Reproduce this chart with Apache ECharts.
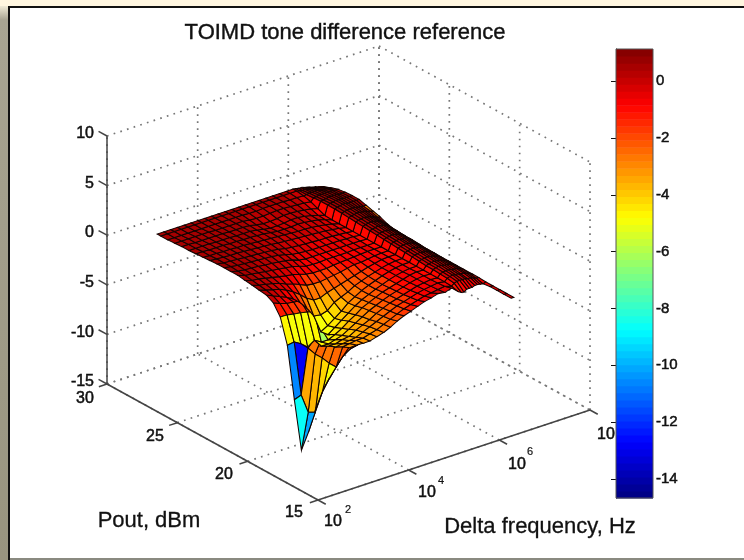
<!DOCTYPE html>
<html><head><meta charset="utf-8">
<style>html,body{margin:0;padding:0;background:#fff}#c{width:744px;height:560px;filter:blur(0.5px)}</style>
<script src="https://cdn.jsdelivr.net/npm/echarts@6/dist/echarts.min.js"></script>
</head><body><div id="c"></div>
<script>
const titleText='TOIMD tone difference reference';
const zTicks=[-15,-10,-5,0,5,10];
const poutTicks=[15,20,25,30];
const freqExpTicks=[2,4,6,8];
const barTicks=[0,-2,-4,-6,-8,-10,-12,-14];
const zMin=-14.67,zMax=1.13;
const freqExp=[2.72,2.87,3.02,3.17,3.32,3.47,3.62,3.77,3.92,4.07,4.22,4.37,4.52,4.67,4.82,4.97,5.12,5.27,5.42,5.57,5.72,5.78,5.84,5.90,5.96,6.02,6.08,6.14,6.20,6.26,6.32];
const pout=[15,15.5,16,16.5,17,17.5,18,18.5,19,19.5,20,20.5,21,21.5,22,22.5,23,23.5,24,24.5,25,25.5,26,26.5,27,27.5,28,28.5,28.75];
const _=null;
const toimd=[
[-.8,-.7,-.5,-.6,_,_,_,_,_,_,_,_,_,_,_,_,_,_,_,_,_,_,_,_,_,_,_,_,_,-1.1,-1.1],
[-1.6,-1.4,-1.3,-1.2,_,_,_,_,_,_,_,_,_,_,_,_,_,_,_,_,_,_,_,_,_,_,_,_,_,-1.1,-1.1],
[-3.4,-2.4,-2.1,-1.8,_,_,_,_,_,_,_,_,_,_,_,_,_,_,_,_,_,_,_,_,_,_,_,_,_,-1.1,-1.1],
[-5,-4,-3.2,-2.4,_,_,_,_,_,_,_,_,_,_,_,_,_,_,_,_,_,_,_,_,_,_,_,_,_,-1.1,-1.1],
[-6.6,-5.6,-4.7,-2.8,-3.2,-3.15,-3.2,-3.2,-3,-2.8,-2.5,-2.1,-1.8,-1.55,-1.3,-1.05,-.9,-.7,-.8,-.6,-1.2,-1.35,-1.4,-1.2,-1.2,-1.2,-1.1,-1.1,-1.15,-1.2,-1.1],
[-8.9,-7.4,-4.7,-2.8,-3.5,-3.4,-3.3,-3.3,-3.1,-2.9,-2.6,-2.3,-2,-1.7,-1.5,-1.3,-1.1,-1,-.9,-.8,-1,-.8,-.7,-.7,-.7,-.7,-.8,-.8,-.9,-1,-1.05],
[-11.6,-9.8,-4.55,-3,-3.9,-3.8,-3.7,-3.6,-3.3,-3,-2.7,-2.4,-2.1,-1.8,-1.6,-1.4,-1.2,-1.05,-.95,-.85,-.95,-.7,-.6,-.55,-.6,-.6,-.7,-.7,-.8,-.9,-1.05],
[-13.8,-10.2,-4.55,-3.15,-4.2,-4.2,-4,-3.9,-3.5,-3.2,-2.9,-2.5,-2.2,-1.9,-1.7,-1.5,-1.3,-1.1,-1,-.9,-.95,-.65,-.55,-.5,-.5,-.55,-.6,-.65,-.75,-.85,-1.05],
[-9.1,-8.85,-4.35,-3.55,-4.6,-4.6,-4.4,-4.2,-3.8,-3.4,-3,-2.6,-2.3,-2,-1.75,-1.55,-1.35,-1.15,-1,-.9,-.95,-.6,-.5,-.45,-.45,-.5,-.55,-.6,-.7,-.85,-1.05],
[-4,-3.9,-4.3,-4.85,-4.4,-4.8,-4.8,-4.5,-4.1,-3.6,-3.2,-2.7,-2.4,-2.1,-1.8,-1.6,-1.4,-1.2,-1,-.9,-.95,-.6,-.5,-.45,-.4,-.45,-.5,-.6,-.7,-.85,-1.05],
[-1.55,-1.55,-1.7,-1.8,-1.95,-2.15,-4,-4.9,-4.4,-3.9,-3.4,-2.9,-2.5,-2.2,-1.9,-1.65,-1.4,-1.2,-1.05,-.95,-.95,-.55,-.45,-.4,-.35,-.4,-.45,-.55,-.65,-.85,-1.05],
[-.5,-.8,-1,-1.1,-1.2,-1.5,-3,-5,-4.6,-4.1,-3.6,-3,-2.6,-2.2,-1.9,-1.65,-1.4,-1.2,-1.05,-.95,-.95,-.5,-.4,-.35,-.3,-.35,-.4,-.5,-.6,-.8,-1.05],
[-.1,-.4,-.7,-1,-1.4,-2,-2.8,-3.8,-3.9,-3.7,-3.1,-2.8,-2.5,-2.1,-1.85,-1.6,-1.4,-1.2,-1.05,-.95,-.95,-.45,-.35,-.3,-.25,-.3,-.35,-.45,-.6,-.8,-1.05],
[0,-.2,-.4,-.6,-.9,-1.3,-1.8,-2.4,-2.8,-2.8,-2.5,-2.3,-2.1,-1.9,-1.7,-1.5,-1.3,-1.15,-1,-.95,-.95,-.4,-.3,-.25,-.2,-.25,-.3,-.4,-.55,-.75,-1.05],
[.1,-.1,-.25,-.4,-.6,-.9,-1.1,-1.4,-1.7,-1.8,-1.8,-1.7,-1.6,-1.5,-1.35,-1.2,-1.2,-1.1,-1,-.95,-.95,-.35,-.25,-.2,-.15,-.2,-.25,-.35,-.5,-.7,-1.05],
[.2,0,-.1,-.25,-.4,-.55,-.7,-.8,-1,-1.2,-1.3,-1.3,-1.3,-1.2,-1.15,-1.1,-1.05,-1,-.95,-.95,-.95,-.3,-.2,-.15,-.1,-.15,-.2,-.3,-.45,-.7,-1.05],
[.3,.1,0,-.1,-.2,-.3,-.4,-.5,-.6,-.8,-1,-1.05,-1.05,-1,-1,-1,-1,-.95,-.95,-.95,-.95,-.25,-.15,-.1,-.05,-.1,-.15,-.25,-.4,-.65,-1],
[.3,.15,.05,0,-.05,-.15,-.2,-.3,-.4,-.55,-.8,-.9,-.9,-.9,-.9,-.9,-.9,-.9,-.9,-.9,-.95,-.2,-.1,-.05,0,-.05,-.1,-.2,-.35,-.6,-.9],
[.3,.2,.1,.05,0,-.05,-.1,-.15,-.25,-.4,-.6,-.7,-.75,-.8,-.8,-.8,-.8,-.8,-.85,-.85,-.95,-.15,-.05,0,.05,0,-.05,-.15,-.3,-.5,-.7],
[.3,.2,.15,.1,.05,0,-.05,-.1,-.15,-.25,-.4,-.5,-.55,-.6,-.65,-.7,-.7,-.75,-.8,-.85,-.95,-.1,0,.05,.1,.05,0,-.1,-.2,-.3,-.4],
[.25,.2,.15,.1,.1,.05,0,-.05,-.1,-.15,-.25,-.3,-.35,-.4,-.45,-.5,-.55,-.6,-.7,-.8,-.95,-.05,.05,.1,.15,.15,.1,.05,-.05,-.1,-.2],
[.2,.15,.15,.1,.1,.05,.05,0,-.05,-.1,-.15,-.2,-.25,-.3,-.35,-.35,-.4,-.5,-.6,-.75,-.95,0,.1,.15,.2,.2,.15,.1,.05,0,0],
[.15,.15,.1,.1,.1,.05,.05,0,0,-.05,-.1,-.2,-.3,-.3,-.3,-.25,-.3,-.4,-.5,-.7,-.95,.05,.15,.2,.25,.25,.2,.2,.2,.2,.2],
[.1,.1,.1,.1,.05,.05,.05,0,0,0,-.1,-.25,-.35,-.35,-.3,-.2,-.2,-.3,-.45,-.65,-.9,.05,.15,.2,.25,.25,.25,.2,.2,.2,.2],
[.1,.1,.05,.05,.05,.05,.05,0,0,0,-.05,-.2,-.3,-.3,-.25,-.15,-.15,-.2,-.3,-.4,-.6,.05,.1,.15,.2,.2,.2,.2,.15,.15,.15],
[.05,.05,.05,.05,.05,.05,0,0,0,0,0,-.1,-.15,-.15,-.1,-.05,-.05,-.1,-.15,-.2,-.3,0,.05,.1,.1,.1,.1,.1,.1,.05,.05],
[0,0,0,0,0,0,0,0,0,0,0,0,-.05,-.05,0,0,0,0,-.05,-.05,-.1,-.05,0,0,0,0,-.05,-.1,-.1,-.15,-.2],
[0,0,0,0,0,0,0,0,0,0,0,0,0,0,0,0,0,0,0,0,0,-.05,-.1,-.1,-.15,-.2,-.25,-.3,-.35,-.4,-.45],
[0,0,0,0,0,0,0,0,0,0,0,0,0,0,0,0,0,0,0,0,0,-.05,-.1,-.15,-.2,-.3,-.35,-.45,-.5,-.6,-.7]
];
// facets whose colour (the C matrix) differs from their first corner's height: [row, col, value]
const faceValues=[
[8,0,-10.6],[8,1,-12.9],[7,0,-8.6],[6,0,-10.2],[5,0,-8.2],[4,0,-6],[3,0,-5],[2,0,-3.6],
[7,1,-3.4],[6,1,-3.7],[5,1,-4.2],[4,1,-4.8],[3,1,-5.4],[2,1,-4],[1,1,-3],
[7,2,-2.6],[6,2,-2.5],[5,2,-2.7],[4,2,-2.4],[3,2,-2.2],[8,2,-3],
[9,0,-4.7],[9,1,-4.9],[9,2,-5],[9,3,-4.8],[9,4,-4.6],[9,5,-6.2],
[19,29,-2.7],[20,29,-2.8]
];
const brightBandCols=[19,20];

function project(lf,p,z){
  const u=(lf-2)/6,v=(p-15)/15,h=(z+15)*9.92;
  return [318+272*u-211*v,500-90*u-116*v-h];
}
function jet(val){
  let t=(val-zMin)/(zMax-zMin);t=Math.max(0,Math.min(.9999,t));
  t=(Math.floor(t*64)+.5)/64;
  const f=k=>Math.round(255*Math.max(0,Math.min(1,1.5-Math.abs(4*t-k))));
  return 'rgb('+f(3)+','+f(2)+','+f(1)+')';
}
const faceMap={};faceValues.forEach(a=>faceMap[a[0]+','+a[1]]=a[2]);
const cells=[];
for(let r=0;r<pout.length-1;r++)for(let c=0;c<freqExp.length-1;c++){
  const a=toimd[r][c],b=toimd[r][c+1],d=toimd[r+1][c],e=toimd[r+1][c+1];
  if(a===null||b===null||d===null||e===null)continue;
  const m=(a+b+d+e)/4;
  const far=.523*(freqExp[c]-2+.03)/6+.675*(pout[r]-15+.25)/15-.505*(m+15)/25;
  cells.push([r,c,far]);
}
cells.sort((x,y)=>x[2]-y[2]);

const gridSeg=[],axisSeg=[];
zTicks.forEach(z=>{gridSeg.push([2,30,z,8,30,z]);gridSeg.push([8,30,z,8,15,z]);});
freqExpTicks.forEach(f=>{gridSeg.push([f,15,-15,f,30,-15]);gridSeg.push([f,30,-15,f,30,10]);});
poutTicks.forEach(p=>{gridSeg.push([2,p,-15,8,p,-15]);gridSeg.push([8,p,-15,8,p,10]);});
axisSeg.push([2,30,-15,2,30,10],[2,15,-15,2,30,-15],[2,15,-15,8,15,-15]);
zTicks.forEach(z=>axisSeg.push([2,30,z,2,30.6,z]));
poutTicks.forEach(p=>axisSeg.push([2,p,-15,1.82,p,-15]));
freqExpTicks.forEach(f=>axisSeg.push([f,15,-15,f,14.45,-15]));

function seg(style){return function(params,api){
  const a=api.coord(project(api.value(0),api.value(1),api.value(2)));
  const b=api.coord(project(api.value(3),api.value(4),api.value(5)));
  return {type:'line',shape:{x1:a[0],y1:a[1],x2:b[0],y2:b[1]},style:style};
};}
function cellItem(params,api){
  const r=api.value(0),c=api.value(1);
  const pts=[[r,c],[r,c+1],[r+1,c+1],[r+1,c]].map(q=>api.coord(project(freqExp[q[1]],pout[q[0]],toimd[q[0]][q[1]])));
  const k=r+','+c;
  let val=(k in faceMap)?faceMap[k]:toimd[r][c];
  if(val>-1.6&&brightBandCols.indexOf(c)<0)val+=.4;
  return {type:'polygon',shape:{points:pts},style:{fill:jet(val),stroke:'#120300',lineWidth:1.05}};
}
const levels=[];for(let i=0;i<64;i++)levels.push([zMin+i*(zMax-zMin)/64,zMin+(i+1)*(zMax-zMin)/64]);
function barItem(params,api){
  const a=api.coord([0,api.value(0)]),b=api.coord([1,api.value(1)]);
  return {type:'rect',shape:{x:a[0],y:b[1],width:b[0]-a[0],height:a[1]-b[1]+.6},style:{fill:jet((api.value(0)+api.value(1))/2)}};
}
const font='"Liberation Sans",Arial,sans-serif';
function txt(s,x,y,size,align,bw){return {type:'text',x:x,y:y,z:50,silent:true,style:{text:s,fontFamily:font,fontSize:size,fill:'#111',stroke:'#111',lineWidth:bw===undefined?.5:bw,align:align||'center',verticalAlign:'middle'}};}
const zLabelY=[382,333,283,233,184,134];
const labels=[
  txt('Pout, dBm',149,521,22,'center',.3),txt('Delta frequency, Hz',540,527,22,'center',.3),
  txt('30',85,399,16),txt('25',155,437,16),txt('20',224,475,16),txt('15',294,513,16),
  txt('10',333,522,16),txt('2',348,510,11,'center',.2),txt('10',427,493,16),txt('4',441,481,11,'center',.2),
  txt('10',517,465,16),txt('6',530,452,11,'center',.2),txt('10',606,435,16)
];
zTicks.forEach((z,i)=>labels.push(txt(String(z),94,zLabelY[i],16,'right')));

const chart=echarts.init(document.getElementById('c'),null,{renderer:'canvas'});
chart.setOption({
  animation:false,backgroundColor:'#fff',
  title:{text:titleText,left:340,top:17,textAlign:'center',textStyle:{fontFamily:font,fontSize:22,fontWeight:'normal',color:'#111',textBorderColor:'#111',textBorderWidth:.4}},
  graphic:[
    {type:'rect',z:40,silent:true,shape:{x:0,y:0,width:744,height:6},style:{fill:'#fff6e0'}},
    {type:'rect',z:40,silent:true,shape:{x:0,y:6,width:8,height:554},style:{fill:{type:'linear',x:0,y:0,x2:0,y2:1,colorStops:[{offset:0,color:'#f0ead6'},{offset:.025,color:'#a8a492'},{offset:1,color:'#98947f'}]}}},
    {type:'rect',z:41,silent:true,shape:{x:8,y:6,width:736,height:2},style:{fill:'#111'}},
    {type:'rect',z:41,silent:true,shape:{x:8,y:6,width:2,height:554},style:{fill:'#111'}},
    {type:'rect',z:41,silent:true,shape:{x:10,y:558,width:734,height:2},style:{fill:'#8a8a80'}}
  ].concat(labels),
  grid:[
    {left:0,top:0,width:744,height:560,show:false},
    {left:616,top:49,width:37,height:449,show:true,borderColor:'#555',borderWidth:1,z:20,backgroundColor:'transparent'}
  ],
  xAxis:[
    {gridIndex:0,type:'value',min:0,max:744,show:false},
    {gridIndex:1,type:'value',min:0,max:1,show:false}
  ],
  yAxis:[
    {gridIndex:0,type:'value',min:0,max:560,inverse:true,show:false},
    {gridIndex:1,type:'value',min:zMin,max:zMax,position:'right',splitLine:{show:false},
     axisLine:{show:true,lineStyle:{color:'#555'}},
     axisTick:{show:true,inside:true,length:5,customValues:barTicks,lineStyle:{color:'#111'}},
     axisLabel:{show:true,customValues:barTicks,margin:3,fontFamily:font,fontSize:15,fontWeight:'normal',color:'#111',textBorderColor:'#111',textBorderWidth:.5,formatter:v=>String(v)}},
    {gridIndex:1,type:'value',min:zMin,max:zMax,position:'left',splitLine:{show:false},
     axisLine:{show:true,lineStyle:{color:'#555'}},
     axisTick:{show:true,inside:true,length:5,customValues:barTicks,lineStyle:{color:'#111'}},
     axisLabel:{show:false}}
  ],
  series:[
    {type:'custom',xAxisIndex:0,yAxisIndex:0,z:1,silent:true,clip:false,data:gridSeg,encode:{x:0,y:1},
     renderItem:seg({stroke:'#777',lineWidth:1.7,lineDash:[1.7,5.3]})},
    {type:'custom',xAxisIndex:0,yAxisIndex:0,z:2,silent:true,clip:false,data:axisSeg,encode:{x:0,y:1},
     renderItem:seg({stroke:'#444',lineWidth:1.5})},
    {type:'custom',xAxisIndex:0,yAxisIndex:0,z:3,silent:true,clip:false,data:cells,encode:{x:0,y:1},renderItem:cellItem},
    {type:'custom',xAxisIndex:1,yAxisIndex:1,z:4,silent:true,clip:false,data:levels,encode:{y:[0,1]},renderItem:barItem}
  ]
});
</script></body></html>
